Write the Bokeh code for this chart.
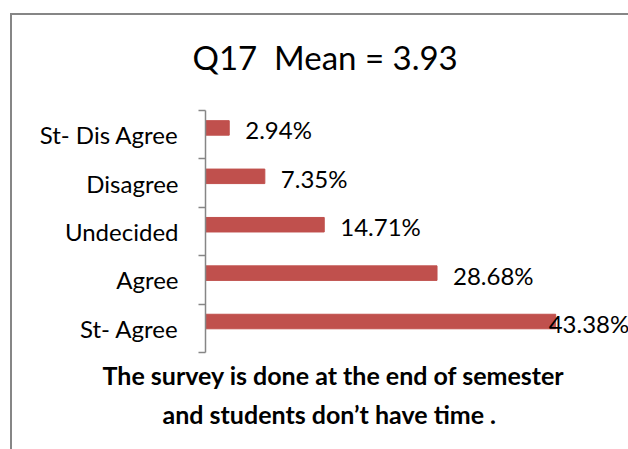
from bokeh.plotting import figure
from bokeh.models import Range1d, FixedTicker, ColumnDataSource, Title, InlineStyleSheet
from bokeh.core.properties import value
from bokeh.embed import file_html
from bokeh.resources import INLINE

categories = ["St- Agree", "Agree", "Undecided", "Disagree", "St- Dis Agree"]
percents = [43.38, 28.68, 14.71, 7.35, 2.94]
label_texts = ["43.38%", "28.68%", "14.71%", "7.35%", "2.94%"]
title_text = "Q17\u00a0 Mean = 3.93"
note_lines = ["The survey is done at the end of semester", "and students don\u2019t have time ."]

FONT = "Lato"
BAR = "#C0504D"
GREY = "#868686"

pos = [i + 0.5 for i in range(len(categories))]
bar_y = [p_ + 0.14 for p_ in pos]
offsets = [16 if v < 40 else -7 for v in percents]

src = ColumnDataSource(dict(y=bar_y, v=percents, t=label_texts, off=offsets))

border_css = InlineStyleSheet(css="""
:host::after {
  content: ""; position: absolute; left: 10px; top: 13px;
  width: 3000px; height: 3000px; box-sizing: border-box;
  border-left: 2px solid #868686; border-top: 2px solid #868686;
  pointer-events: none; z-index: 10;
}
""")

p = figure(width=628, height=449, output_backend="svg", toolbar_location=None,
           x_range=Range1d(0, 52.4), y_range=Range1d(0, len(categories)),
           min_border_left=205, min_border_right=0, min_border_top=110, min_border_bottom=97)
p.stylesheets = [border_css]
p.outline_line_color = None
p.grid.visible = False
p.xaxis.visible = False

p.hbar(y="y", right="v", left=0, height=0.30, color=BAR, source=src)
p.text(x="v", y="y", text="t", x_offset="off", y_offset=2, source=src, text_baseline="middle",
       text_align="left", text_font=value(FONT), text_font_size="24px", text_color="black")

yax = p.yaxis[0]
yax.ticker = FixedTicker(ticks=pos, minor_ticks=list(range(len(categories) + 1)))
yax.major_label_overrides = {p_: c for p_, c in zip(pos, categories)}
yax.major_tick_line_color = None
yax.minor_tick_line_color = GREY
yax.minor_tick_out = 7
yax.minor_tick_in = 0
yax.axis_line_color = GREY
yax.axis_line_width = 1.5
yax.minor_tick_line_width = 1.5
yax.major_label_standoff = 20
yax.major_label_text_font = FONT
yax.major_label_text_font_size = "24px"
yax.major_label_text_color = "black"

p.title.text = title_text
p.title.text_font = FONT
p.title.text_font_size = "33px"
p.title.text_font_style = "normal"
p.title.text_color = "black"
p.title.align = "left"
p.title.offset = -13
p.title.standoff = 68

for i, line in enumerate(note_lines):
    p.add_layout(Title(text=line, text_font=FONT, text_font_size="25px", text_font_style="bold",
                       text_color="black", align="left", offset=-103 if i == 0 else -43,
                       standoff=11 if i == 0 else 3), "below")

open("out.html", "w").write(file_html(p, INLINE))
